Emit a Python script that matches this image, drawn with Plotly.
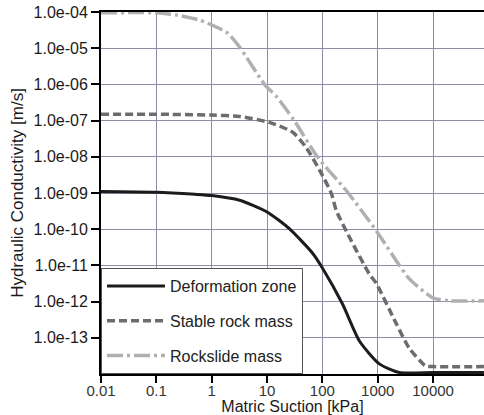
import plotly.graph_objects as go

# ---- data ----
def_x = [0.01, 0.1, 0.5, 1, 3.2, 10, 25, 66, 100, 230, 470, 1070, 2450, 10000, 83000]
def_y = [1.1e-9, 1.05e-9, 9.2e-10, 8.5e-10, 6.3e-10, 3.0e-10, 1.05e-10, 2.2e-11,
         8.5e-12, 8.7e-13, 8e-14, 1.9e-14, 1.1e-14, 1.1e-14, 1.1e-14]

stab_x = [0.01, 0.1, 1, 3.2, 11, 29, 51, 89, 145, 178, 310, 700, 940, 2150, 3700, 7400, 10000, 83000]
stab_y = [1.5e-7, 1.5e-7, 1.42e-7, 1.3e-7, 8.9e-8, 4.8e-8, 1.8e-8, 4.3e-9, 9.8e-10, 3.3e-10,
          5.9e-11, 5.9e-12, 3.2e-12, 2.5e-13, 5.2e-14, 1.65e-14, 1.6e-14, 1.6e-14]

rock_x = [0.01, 0.1, 0.23, 0.6, 1.23, 1.95, 3.2, 9, 15, 31, 81, 270, 940, 3700, 10000, 20000, 83000]
rock_y = [9.5e-5, 9.5e-5, 8.3e-5, 6e-5, 3.8e-5, 2.6e-5, 1.07e-5, 1e-6, 4.5e-7, 1e-7, 1e-8,
          1.17e-9, 9.1e-11, 4.3e-12, 1.26e-12, 1.05e-12, 1.05e-12]

names = ["Deformation zone", "Stable rock mass", "Rockslide mass"]

x_tickvals = [0.01, 0.1, 1, 10, 100, 1000, 10000]
x_ticktext = ["0.01", "0.1", "1", "10", "100", "1000", "10000"]
y_tickvals = [1e-4, 1e-5, 1e-6, 1e-7, 1e-8, 1e-9, 1e-10, 1e-11, 1e-12, 1e-13]
y_ticktext = ["1.0e-04", "1.0e-05", "1.0e-06", "1.0e-07", "1.0e-08", "1.0e-09",
              "1.0e-10", "1.0e-11", "1.0e-12", "1.0e-13"]

fig = go.Figure()
fig.add_trace(go.Scatter(x=def_x, y=def_y, mode="lines", name=names[0], legendgroup="a",
                         line=dict(color="#1c1c1c", width=3, shape="spline", smoothing=0.6)))
fig.add_trace(go.Scatter(x=stab_x, y=stab_y, mode="lines", name=names[1], legendgroup="b",
                         line=dict(color="#6c6c6c", width=3.5, dash="8px,4px", shape="spline", smoothing=0.6)))
fig.add_trace(go.Scatter(x=rock_x, y=rock_y, mode="lines", name=names[2], legendgroup="c",
                         line=dict(color="#b0b0b0", width=3.5, dash="16px,4px,3px,4px", shape="spline", smoothing=0.6)))

font = "Liberation Sans, Arial, sans-serif"
grid = "#8e8ca2"
fig.update_layout(
    width=484, height=415,
    margin=dict(l=101, r=0, t=12, b=41),
    paper_bgcolor="white", plot_bgcolor="white",
    font=dict(family=font, size=15, color="#222222"),
    showlegend=True,
    legend=dict(x=0, y=0, xanchor="left", yanchor="bottom",
                bgcolor="white", bordercolor="#555555", borderwidth=1,
                font=dict(size=16, color="#222222"), tracegroupgap=11,
                itemwidth=58),
    xaxis=dict(type="log", range=[-2, 4.92], tickvals=x_tickvals, ticktext=x_ticktext,
               showline=True, linecolor="black", linewidth=2, mirror=True,
               ticks="outside", ticklen=7, tickwidth=2, tickcolor="black",
               ticklabelstandoff=-5, tickfont=dict(size=15, color="#333333"),
               showgrid=True, gridcolor=grid, gridwidth=1, zeroline=False,
               title=dict(text="Matric Suction [kPa]", font=dict(size=16, color="#1a1a1a"), standoff=0)),
    yaxis=dict(type="log", range=[-14, -4], tickvals=y_tickvals, ticktext=y_ticktext,
               showline=True, linecolor="black", linewidth=2,
               ticks="outside", ticklen=8, tickwidth=2, tickcolor="black",
               tickfont=dict(size=16, color="#1a1a1a"),
               showgrid=True, gridcolor=grid, gridwidth=1, zeroline=False,
               title=dict(text="Hydraulic Conductivity [m/s]", font=dict(size=17, color="#1a1a1a"), standoff=6)),
)

fig.write_html("out.html")
